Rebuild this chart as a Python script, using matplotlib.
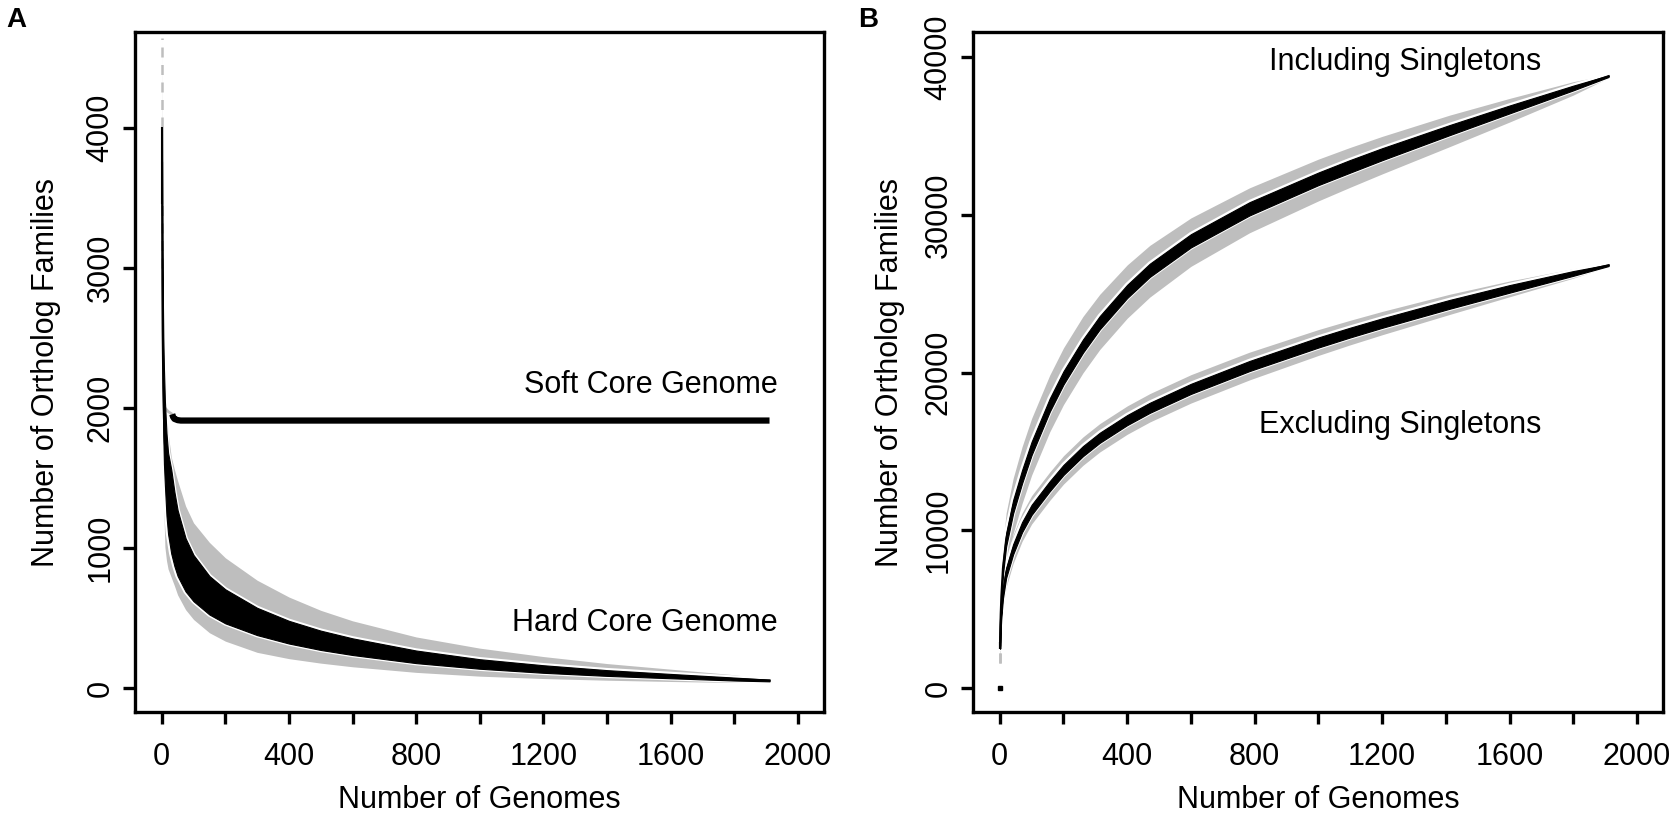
import numpy as np
import matplotlib
matplotlib.use("Agg")
import matplotlib.pyplot as plt
from matplotlib.ticker import MultipleLocator

plt.rcParams['font.family'] = ['Liberation Sans', 'DejaVu Sans']

# ---- panel A: core genome (boxplot summaries per genome count) ----
n_core = [1, 2, 3, 5, 7, 10, 15, 20, 30, 40, 50, 75, 100, 150, 200, 300,
          400, 500, 600, 800, 1000, 1200, 1400, 1600, 1800, 1911]
hard_med = [3750, 2900, 2550, 2150, 1930, 1750, 1520, 1390, 1240, 1130, 1040, 890, 792, 667, 585, 475,
            397, 339, 293, 221, 171, 135, 107, 85, 64, 54]
hard_q1 = [3455, 2600, 2200, 1800, 1600, 1450, 1230, 1100, 960, 870, 800, 690, 620, 525, 462, 378,
           318, 272, 236, 178, 138, 109, 87, 70, 54, 48]
hard_q3 = [4005, 3200, 2900, 2500, 2280, 2050, 1820, 1680, 1560, 1400, 1270, 1070, 950, 800, 705, 573,
           480, 410, 355, 268, 206, 163, 128, 101, 75, 60]
hard_wlo = [3000, 2000, 1800, 1484, 1250, 1007, 910, 850, 790, 730, 665, 560, 490, 395, 335, 255,
            210, 178, 152, 112, 85, 68, 56, 47, 40, 42]
hard_whi = [4640, 3400, 3100, 2750, 2500, 2300, 1980, 1820, 1650, 1560, 1480, 1300, 1180, 1040, 930, 770,
            650, 555, 480, 365, 285, 225, 175, 135, 95, 62]

# soft core leaves the hard core column and levels off after ~36 genomes
n_soft = [10, 20, 33, 36, 40, 50, 60, 100, 400, 1000, 1911]
soft_med = [2000, 1975, 1955, 1935, 1922, 1913, 1910, 1910, 1910, 1910, 1910]
soft_lw = [4.5, 2.0]

# ---- panel B: pan genome ----
n_pan = [1, 2, 3, 5, 10, 20, 42, 70, 100, 157, 200, 261, 314, 400, 471, 600,
         784, 1000, 1098, 1200, 1412, 1600, 1800, 1911]
inc_med = [2700, 3900, 4700, 5800, 7600, 9400, 11500, 13400, 15200, 17950, 19670, 21680, 23170, 25150, 26490, 28360,
           30390, 32290, 33070, 33850, 35380, 36690, 38050, 38800]
inc_q1 = [2500, 3600, 4350, 5400, 7200, 8980, 11080, 12980, 14780, 17530, 19250, 21260, 22750, 24730, 26070, 27940,
          29970, 31890, 32670, 33470, 35060, 36440, 37900, 38750]
inc_q3 = [2917, 4200, 5050, 6200, 8000, 9820, 11920, 13820, 15620, 18370, 20090, 22100, 23590, 25570, 26910, 28780,
          30810, 32690, 33470, 34230, 35700, 36940, 38200, 38850]
inc_wlo = [1570, 2900, 3600, 4500, 6100, 7800, 9800, 11700, 13500, 16250, 17970, 19980, 21470, 23450, 24790, 26740,
           28870, 30890, 31740, 32600, 34330, 35890, 37600, 38700]
inc_whi = [3300, 4900, 5800, 7100, 9100, 11100, 13300, 15300, 17100, 19850, 21570, 23560, 24970, 26830, 28070, 29810,
           31720, 33540, 34270, 34980, 36330, 37390, 38450, 38900]

exc_med = [2700, 3500, 4000, 4800, 6000, 7300, 8800, 10200, 11300, 12800, 13830, 15020, 15870, 16990, 17770, 18970,
           20420, 21910, 22530, 23140, 24330, 25310, 26290, 26810]
exc_q1 = [2500, 3250, 3720, 4500, 5680, 6980, 8480, 9880, 10980, 12480, 13510, 14700, 15550, 16670, 17450, 18650,
          20100, 21590, 22220, 22840, 24050, 25070, 26140, 26760]
exc_q3 = [2917, 3750, 4280, 5100, 6320, 7620, 9120, 10520, 11620, 13120, 14150, 15340, 16190, 17310, 18090, 19290,
          20740, 22230, 22840, 23440, 24610, 25550, 26440, 26860]
exc_wlo = [1570, 2900, 3300, 4000, 5150, 6400, 7900, 9300, 10400, 11900, 12930, 14120, 14970, 16090, 16870, 18070,
           19540, 21090, 21750, 22400, 23690, 24810, 25990, 26730]
exc_whi = [3300, 4100, 4700, 5600, 6850, 8200, 9700, 11100, 12200, 13700, 14730, 15920, 16770, 17890, 18670, 19870,
           21300, 22730, 23310, 23880, 24970, 25810, 26590, 26890]

GRAY = "#bebebe"
FS = 22


def band(ax, n, med, q1, q3, wlo, whi):
    # whiskers in gray, white gap, then the boxes in black
    ax.fill_between(n, wlo, whi, color=GRAY, lw=0, zorder=1)
    ax.plot(n, q1, color="white", lw=3.2, zorder=2)
    ax.plot(n, q3, color="white", lw=3.2, zorder=2)
    ax.fill_between(n, q1, q3, color="black", lw=0.8, edgecolor="black", zorder=3)
    ax.plot(n, med, color="black", lw=1.5, zorder=4)
    # first box drawn as vertical marks (single genome)
    ax.vlines(n[0], q3[0], whi[0], color=GRAY, lw=1.8, linestyles=(0, (4, 3)), zorder=2)
    ax.vlines(n[0], wlo[0], q1[0], color=GRAY, lw=1.8, linestyles=(0, (4, 3)), zorder=2)
    ax.vlines(n[0], q1[0], q3[0], color="black", lw=1.5, zorder=4)


def style(ax, yticks, ylab_x):
    ax.set_xlim(-84, 2082)
    ax.xaxis.set_major_locator(MultipleLocator(400))
    ax.xaxis.set_minor_locator(MultipleLocator(200))
    ax.set_yticks(yticks)
    for s in ax.spines.values():
        s.set_linewidth(2.4)
    ax.tick_params(which="both", direction="out", length=8.6, width=2.4, labelsize=FS)
    ax.tick_params(axis="x", which="both", pad=13)
    ax.tick_params(axis="y", pad=5.5, labelrotation=90)
    for t in ax.get_yticklabels():
        t.set_va("center")
    ax.set_xlabel("Number of Genomes", fontsize=FS)
    ax.set_ylabel("Number of Ortholog Families", fontsize=FS)
    ax.xaxis.set_label_coords(0.5, -0.129)
    ax.xaxis.label.set_va("center")
    ax.yaxis.set_label_coords(ylab_x, 0.5)
    ax.yaxis.label.set_va("center")


fig = plt.figure(figsize=(16.77, 8.17), dpi=100)
axA = fig.add_axes([0.0805, 0.1285, 0.4108, 0.8323])
axB = fig.add_axes([0.5802, 0.1285, 0.4115, 0.8323])

band(axA, n_core, hard_med, hard_q1, hard_q3, hard_wlo, hard_whi)
# thin gray lead-in from the hard core column, then the thick soft core line
axA.plot(n_soft[:4], soft_med[:4], color=GRAY, lw=soft_lw[1], zorder=2)
axA.plot(n_soft[2:], soft_med[2:], color="black", lw=soft_lw[0], solid_capstyle="butt", zorder=5)
axA.set_ylim(-171, 4684)
style(axA, [0, 1000, 2000, 3000, 4000], -0.129)
axA.text(1938, 2162, "Soft Core Genome", fontsize=FS, ha="right", va="center")
axA.text(1938, 462, "Hard Core Genome", fontsize=FS, ha="right", va="center")

band(axB, n_pan, inc_med, inc_q1, inc_q3, inc_wlo, inc_whi)
band(axB, n_pan, exc_med, exc_q1, exc_q3, exc_wlo, exc_whi)
axB.plot([0], [0], marker="s", ms=2.5, color="black", ls="none")
axB.set_ylim(-1522, 41600)
style(axB, [0, 10000, 20000, 30000, 40000], -0.120)
axB.text(1701, 39700, "Including Singletons", fontsize=FS, ha="right", va="center")
axB.text(1701, 16680, "Excluding Singletons", fontsize=FS, ha="right", va="center")

fig.text(0.004, 0.975, "A", fontsize=20, fontweight="bold", va="center", ha="left")
fig.text(0.5116, 0.975, "B", fontsize=20, fontweight="bold", va="center", ha="left")

fig.savefig("out.png", dpi=100)
